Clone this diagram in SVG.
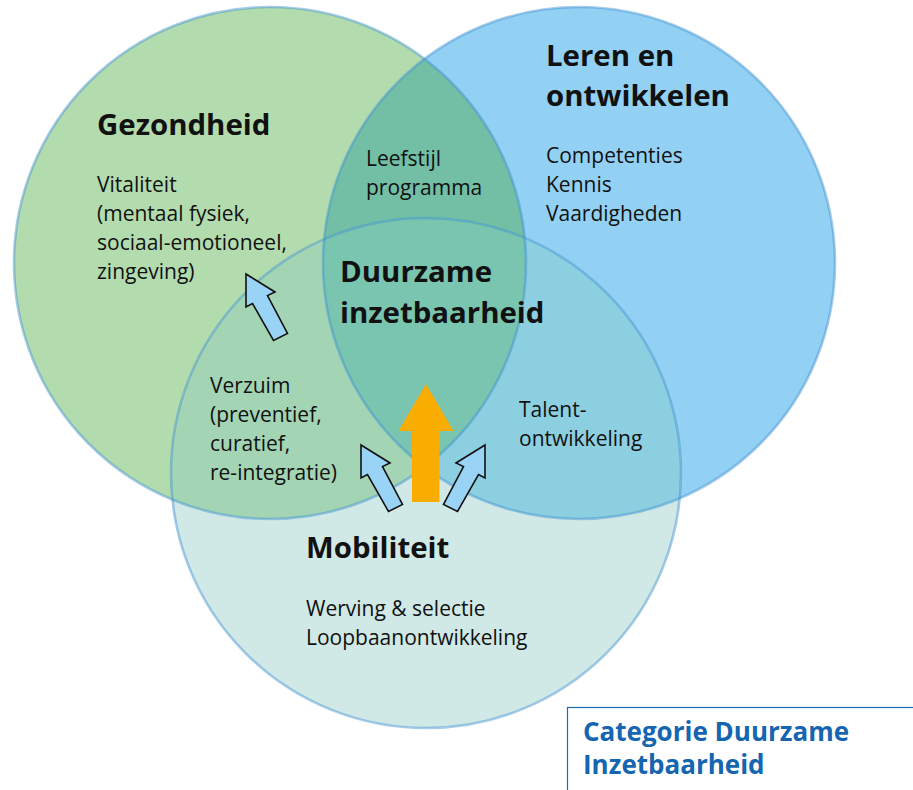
<svg xmlns="http://www.w3.org/2000/svg" xmlns:xlink="http://www.w3.org/1999/xlink" width="913" height="790" viewBox="0 0 913 790">
  <style>
    .t { font-family: "Open Sans", "Noto Sans", sans-serif; fill: #111; }
    .h { font-size: 29.4px; font-weight: 700; }
    .b { font-size: 21px; }
    .ring { fill: none; stroke: #3d8fd0; stroke-opacity: 0.45; stroke-width: 2.6; }
    .leg { font-family: "Open Sans", "Noto Sans", sans-serif; font-size: 26px; font-weight: 700; fill: #1565b1; }
    .blue-arrow { fill: #99d3f5; stroke: #111; stroke-width: 1.6; stroke-linejoin: miter; }
  </style>
  <defs>
    <circle id="cg" cx="270" cy="263" r="256"/>
    <circle id="cb" cx="579" cy="263" r="256"/>
    <circle id="ct" cx="426" cy="473" r="255"/>
    <clipPath id="clipG"><use xlink:href="#cg"/></clipPath>
    <clipPath id="clipB"><use xlink:href="#cb"/></clipPath>
    <polygon id="ba" points="0,0 29,18 21.5,21.5 41.5,59.5 27.5,66.5 6.5,29.5 0,33"/>
  </defs>

  <rect width="913" height="790" fill="#ffffff"/>

  <!-- circle areas and their overlaps -->
  <g id="areas">
    <use xlink:href="#cg" fill="#b3dcae"/>
    <use xlink:href="#cb" fill="#93d1f4"/>
    <use xlink:href="#ct" fill="#d0e9e6"/>
    <use xlink:href="#cb" fill="#73bfa6" clip-path="url(#clipG)"/>
    <use xlink:href="#ct" fill="#a3d5b5" clip-path="url(#clipG)"/>
    <use xlink:href="#ct" fill="#8ccfe0" clip-path="url(#clipB)"/>
    <g clip-path="url(#clipG)">
      <use xlink:href="#ct" fill="#7ac5b0" clip-path="url(#clipB)"/>
    </g>
    <use xlink:href="#cg" class="ring"/>
    <use xlink:href="#cb" class="ring"/>
    <use xlink:href="#ct" class="ring"/>
  </g>

  <g id="gezondheid">
    <text class="t h" x="97" y="135">Gezondheid</text>
    <text class="t b" x="97" y="192">Vitaliteit</text>
    <text class="t b" x="97" y="221">(mentaal fysiek,</text>
    <text class="t b" x="97" y="250">sociaal-emotioneel,</text>
    <text class="t b" x="97" y="279">zingeving)</text>
  </g>

  <g id="leren">
    <text class="t h" x="546" y="66">Leren en</text>
    <text class="t h" x="546" y="106">ontwikkelen</text>
    <text class="t b" x="546" y="163">Competenties</text>
    <text class="t b" x="546" y="192">Kennis</text>
    <text class="t b" x="546" y="221">Vaardigheden</text>
  </g>

  <g id="leefstijl">
    <text class="t b" x="366" y="166">Leefstijl</text>
    <text class="t b" x="366" y="195">programma</text>
  </g>

  <g id="duurzaam">
    <text class="t h" x="340" y="282">Duurzame</text>
    <text class="t h" x="340" y="323">inzetbaarheid</text>
  </g>

  <g id="verzuim">
    <text class="t b" x="210" y="393">Verzuim</text>
    <text class="t b" x="210" y="422">(preventief,</text>
    <text class="t b" x="210" y="451">curatief,</text>
    <text class="t b" x="210" y="480">re-integratie)</text>
  </g>

  <g id="talent">
    <text class="t b" x="519" y="417">Talent-</text>
    <text class="t b" x="519" y="446">ontwikkeling</text>
  </g>

  <g id="mobiliteit">
    <text class="t h" x="306" y="558">Mobiliteit</text>
    <text class="t b" x="306" y="616">Werving &amp; selectie</text>
    <text class="t b" x="306" y="645">Loopbaanontwikkeling</text>
  </g>

  <g id="connectors">
    <use xlink:href="#ba" class="blue-arrow" transform="translate(246,274)"/>
    <use xlink:href="#ba" class="blue-arrow" transform="translate(361,445)"/>
    <use xlink:href="#ba" class="blue-arrow" transform="translate(485,445) scale(-1,1)"/>
    <polygon fill="#f8ad00" points="426,384 453.5,431 439.5,431 439.5,502 412,502 412,431 398.5,431"/>
  </g>

  <g id="legend">
    <rect x="567.5" y="707.5" width="360" height="100" fill="#ffffff" stroke="#1a6bb5" stroke-width="1.2"/>
    <text class="leg" x="583" y="741">Categorie Duurzame</text>
    <text class="leg" x="583" y="774">Inzetbaarheid</text>
  </g>
</svg>
